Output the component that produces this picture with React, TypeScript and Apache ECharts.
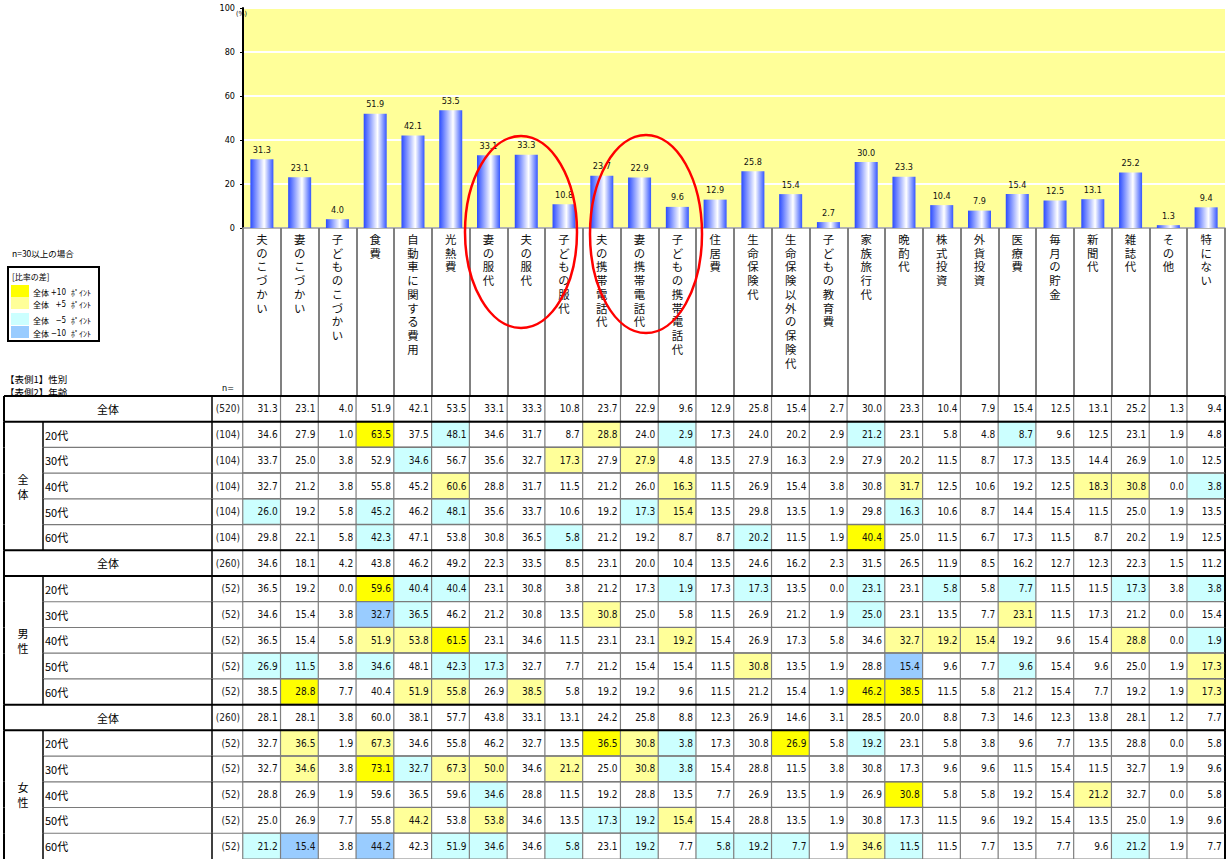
import React, { useEffect, useRef } from 'react';
import * as echarts from 'echarts';

// ---------- data ----------
const categories = [
  '夫のこづかい', '妻のこづかい', '子どものこづかい', '食費', '自動車に関する費用', '光熱費',
  '妻の服代', '夫の服代', '子どもの服代', '夫の携帯電話代', '妻の携帯電話代', '子どもの携帯電話代',
  '住居費', '生命保険代', '生命保険以外の保険代', '子どもの教育費', '家族旅行代', '晩酌代',
  '株式投資', '外貨投資', '医療費', '毎月の貯金', '新聞代', '雑誌代', 'その他', '特にない',
];

const allTotal = [31.3, 23.1, 4.0, 51.9, 42.1, 53.5, 33.1, 33.3, 10.8, 23.7, 22.9, 9.6, 12.9, 25.8, 15.4, 2.7, 30.0, 23.3, 10.4, 7.9, 15.4, 12.5, 13.1, 25.2, 1.3, 9.4];
const all20 = [34.6, 27.9, 1.0, 63.5, 37.5, 48.1, 34.6, 31.7, 8.7, 28.8, 24.0, 2.9, 17.3, 24.0, 20.2, 2.9, 21.2, 23.1, 5.8, 4.8, 8.7, 9.6, 12.5, 23.1, 1.9, 4.8];
const all30 = [33.7, 25.0, 3.8, 52.9, 34.6, 56.7, 35.6, 32.7, 17.3, 27.9, 27.9, 4.8, 13.5, 27.9, 16.3, 2.9, 27.9, 20.2, 11.5, 8.7, 17.3, 13.5, 14.4, 26.9, 1.0, 12.5];
const all40 = [32.7, 21.2, 3.8, 55.8, 45.2, 60.6, 28.8, 31.7, 11.5, 21.2, 26.0, 16.3, 11.5, 26.9, 15.4, 3.8, 30.8, 31.7, 12.5, 10.6, 19.2, 12.5, 18.3, 30.8, 0.0, 3.8];
const all50 = [26.0, 19.2, 5.8, 45.2, 46.2, 48.1, 35.6, 33.7, 10.6, 19.2, 17.3, 15.4, 13.5, 29.8, 13.5, 1.9, 29.8, 16.3, 10.6, 8.7, 14.4, 15.4, 11.5, 25.0, 1.9, 13.5];
const all60 = [29.8, 22.1, 5.8, 42.3, 47.1, 53.8, 30.8, 36.5, 5.8, 21.2, 19.2, 8.7, 8.7, 20.2, 11.5, 1.9, 40.4, 25.0, 11.5, 6.7, 17.3, 11.5, 8.7, 20.2, 1.9, 12.5];
const maleTotal = [34.6, 18.1, 4.2, 43.8, 46.2, 49.2, 22.3, 33.5, 8.5, 23.1, 20.0, 10.4, 13.5, 24.6, 16.2, 2.3, 31.5, 26.5, 11.9, 8.5, 16.2, 12.7, 12.3, 22.3, 1.5, 11.2];
const male20 = [36.5, 19.2, 0.0, 59.6, 40.4, 40.4, 23.1, 30.8, 3.8, 21.2, 17.3, 1.9, 17.3, 17.3, 13.5, 0.0, 23.1, 23.1, 5.8, 5.8, 7.7, 11.5, 11.5, 17.3, 3.8, 3.8];
const male30 = [34.6, 15.4, 3.8, 32.7, 36.5, 46.2, 21.2, 30.8, 13.5, 30.8, 25.0, 5.8, 11.5, 26.9, 21.2, 1.9, 25.0, 23.1, 13.5, 7.7, 23.1, 11.5, 17.3, 21.2, 0.0, 15.4];
const male40 = [36.5, 15.4, 5.8, 51.9, 53.8, 61.5, 23.1, 34.6, 11.5, 23.1, 23.1, 19.2, 15.4, 26.9, 17.3, 5.8, 34.6, 32.7, 19.2, 15.4, 19.2, 9.6, 15.4, 28.8, 0.0, 1.9];
const male50 = [26.9, 11.5, 3.8, 34.6, 48.1, 42.3, 17.3, 32.7, 7.7, 21.2, 15.4, 15.4, 11.5, 30.8, 13.5, 1.9, 28.8, 15.4, 9.6, 7.7, 9.6, 15.4, 9.6, 25.0, 1.9, 17.3];
const male60 = [38.5, 28.8, 7.7, 40.4, 51.9, 55.8, 26.9, 38.5, 5.8, 19.2, 19.2, 9.6, 11.5, 21.2, 15.4, 1.9, 46.2, 38.5, 11.5, 5.8, 21.2, 15.4, 7.7, 19.2, 1.9, 17.3];
const femaleTotal = [28.1, 28.1, 3.8, 60.0, 38.1, 57.7, 43.8, 33.1, 13.1, 24.2, 25.8, 8.8, 12.3, 26.9, 14.6, 3.1, 28.5, 20.0, 8.8, 7.3, 14.6, 12.3, 13.8, 28.1, 1.2, 7.7];
const female20 = [32.7, 36.5, 1.9, 67.3, 34.6, 55.8, 46.2, 32.7, 13.5, 36.5, 30.8, 3.8, 17.3, 30.8, 26.9, 5.8, 19.2, 23.1, 5.8, 3.8, 9.6, 7.7, 13.5, 28.8, 0.0, 5.8];
const female30 = [32.7, 34.6, 3.8, 73.1, 32.7, 67.3, 50.0, 34.6, 21.2, 25.0, 30.8, 3.8, 15.4, 28.8, 11.5, 3.8, 30.8, 17.3, 9.6, 9.6, 11.5, 15.4, 11.5, 32.7, 1.9, 9.6];
const female40 = [28.8, 26.9, 1.9, 59.6, 36.5, 59.6, 34.6, 28.8, 11.5, 19.2, 28.8, 13.5, 7.7, 26.9, 13.5, 1.9, 26.9, 30.8, 5.8, 5.8, 19.2, 15.4, 21.2, 32.7, 0.0, 5.8];
const female50 = [25.0, 26.9, 7.7, 55.8, 44.2, 53.8, 53.8, 34.6, 13.5, 17.3, 19.2, 15.4, 15.4, 28.8, 13.5, 1.9, 30.8, 17.3, 11.5, 9.6, 19.2, 15.4, 13.5, 25.0, 1.9, 9.6];
const female60 = [21.2, 15.4, 3.8, 44.2, 42.3, 51.9, 34.6, 34.6, 5.8, 23.1, 19.2, 7.7, 5.8, 19.2, 7.7, 1.9, 34.6, 11.5, 11.5, 7.7, 13.5, 7.7, 9.6, 21.2, 1.9, 7.7];

// highlight codes: Y = +10pt, y = +5pt, c = -5pt, b = -10pt, . = none
const NONE = '..........................';
const hlAll20 = '...Y.c...y.c....c...c.....';
const hlAll30 = '....c...y.y...............';
const hlAll40 = '.....y.....y.....y....yy.c';
const hlAll50 = 'c..c.c....cy.....c........';
const hlAll60 = '...c....c....c..Y.........';
const hlMale20 = '...Ycc.....c.c..c.c.c..c.c';
const hlMale30 = '...bc....y......c...y.....';
const hlMale40 = '...yyY.....y.....yyy...y.c';
const hlMale50 = 'cc.c.cc......y...b..c....y';
const hlMale60 = '.Y..yy.y........YY.......y';
const hlFemale20 = '.y.y.....Yyc..Y.c.........';
const hlFemale30 = '.y.Ycyy.y.yc..............';
const hlFemale40 = '......c..........Y....y...';
const hlFemale50 = '....y.y..ccy..............';
const hlFemale60 = 'cb.b.cc.c.c.ccc.yc.....c..';

const rowLabels = ['全体', '20代', '30代', '40代', '50代', '60代', '全体', '20代', '30代', '40代', '50代', '60代', '全体', '20代', '30代', '40代', '50代', '60代'];
const rowN = ['(520)', '(104)', '(104)', '(104)', '(104)', '(104)', '(260)', '(52)', '(52)', '(52)', '(52)', '(52)', '(260)', '(52)', '(52)', '(52)', '(52)', '(52)'];
const groupLabels = ['全体', '男性', '女性'];
const yTicks = [0, 20, 40, 60, 80, 100];

const tableRows = [allTotal, all20, all30, all40, all50, all60, maleTotal, male20, male30, male40, male50, male60, femaleTotal, female20, female30, female40, female50, female60];
const tableHl = [NONE, hlAll20, hlAll30, hlAll40, hlAll50, hlAll60, NONE, hlMale20, hlMale30, hlMale40, hlMale50, hlMale60, NONE, hlFemale20, hlFemale30, hlFemale40, hlFemale50, hlFemale60];

// ---------- layout / style ----------
const HL_CODES = '.Yycb';
const HL_COLOR_LIST = ['#ffffff', '#ffff00', '#ffff99', '#ccffff', '#99ccff'];
const TOTAL_ROWS = [0, 6, 12];
const BOUNDARY_ROWS = [0, 1, 6, 7, 12, 13];
const GRID_LEFT = 243;
const GRID_RIGHT_X = 1225;
const GRID_W = GRID_RIGHT_X - GRID_LEFT;
const TABLE_TOP = 396;
const ROW_H = 25.72;
const X_OUTER = 4;
const X_GROUP = 43;
const X_N = 212;
const NUM_FONT = "'Liberation Sans Narrow', 'DejaVu Sans Condensed', 'Roboto Condensed', 'Noto Sans CJK JP', sans-serif";
const JP_FONT = "'Noto Sans CJK JP', 'Noto Sans', sans-serif";

export default function App() {
  const ref = useRef<HTMLDivElement>(null);

  useEffect(() => {
    if (!ref.current) return;
    const chart = echarts.init(ref.current, undefined, { renderer: 'svg' });
    const rowIds = rowLabels.map((_, i) => 'r' + i);

    const heatData: any[] = [];
    tableRows.forEach((row, r) => {
      row.forEach((v, c) => {
        heatData.push([c, r, v, HL_CODES.indexOf(tableHl[r][c])]);
      });
    });

    const barGradient = new echarts.graphic.LinearGradient(0, 0, 1, 0, [
      { offset: 0, color: '#2a4bff' },
      { offset: 0.6, color: '#ffffff' },
      { offset: 1, color: '#3556ff' },
    ]);

    const legendRows = [
      { y: 285, h: 12, color: HL_COLOR_LIST[1], sign: '+10' },
      { y: 297, h: 12, color: HL_COLOR_LIST[2], sign: '+5' },
      { y: 313, h: 12, color: HL_COLOR_LIST[3], sign: '−5' },
      { y: 326, h: 12, color: HL_COLOR_LIST[4], sign: '−10' },
    ];
    const legendEls: any[] = [
      { type: 'rect', shape: { x: 8, y: 267, width: 91, height: 74 }, style: { fill: '#fff', stroke: '#000', lineWidth: 2 } },
      { type: 'text', x: 12, y: 272, style: { text: '[比率の差]', fontSize: 8, fontFamily: JP_FONT, fill: '#000' } },
    ];
    legendRows.forEach((lr) => {
      legendEls.push({ type: 'rect', shape: { x: 11, y: lr.y, width: 18, height: lr.h }, style: { fill: lr.color } });
      legendEls.push({ type: 'text', x: 33, y: lr.y + lr.h / 2 + 1, style: { text: '全体', fontSize: 8, fontFamily: JP_FONT, fill: '#000', verticalAlign: 'middle' } });
      legendEls.push({ type: 'text', x: 66, y: lr.y + lr.h / 2 + 1, style: { text: lr.sign, fontSize: 8, fontFamily: NUM_FONT, fill: '#000', align: 'right', verticalAlign: 'middle' } });
      legendEls.push({ type: 'text', x: 71, y: lr.y + lr.h / 2 + 1, style: { text: 'ﾎﾟｲﾝﾄ', fontSize: 8, fontFamily: JP_FONT, fill: '#000', verticalAlign: 'middle' } });
    });

    const option: any = {
      animation: false,
      backgroundColor: '#ffffff',
      grid: [
        { left: GRID_LEFT, top: 8, width: GRID_W, height: 220, show: true, backgroundColor: '#ffff99', borderWidth: 0 },
        { left: GRID_LEFT, top: TABLE_TOP, width: GRID_W, height: ROW_H * 18, show: false },
      ],
      visualMap: {
        type: 'piecewise', show: false, seriesIndex: 1, dimension: 3,
        pieces: HL_COLOR_LIST.map((color, i) => ({ value: i, color })),
      },
      xAxis: [
        {
          type: 'category', gridIndex: 0, data: categories,
          axisLine: { show: true, lineStyle: { color: '#9a9a9a', width: 1.5 } },
          axisTick: { show: true, interval: 0, length: TABLE_TOP - 228, lineStyle: { color: '#808080', width: 2 } },
          axisLabel: {
            interval: 0, margin: 4, fontSize: 11.4, lineHeight: 13.75, color: '#111', fontFamily: JP_FONT,
            verticalAlign: 'top',
            formatter: (v: string) => v.split('').join('\n'),
          },
          splitLine: { show: false },
        },
        { type: 'category', gridIndex: 1, data: categories, show: false },
      ],
      yAxis: [
        {
          type: 'value', gridIndex: 0, min: 0, max: 100, interval: 20,
          axisLine: { show: true, lineStyle: { color: '#000', width: 2 } },
          axisTick: { show: true, length: 3, lineStyle: { color: '#000' } },
          axisLabel: { margin: 8, fontSize: 9, color: '#000', fontFamily: NUM_FONT, formatter: (v: number) => (yTicks.includes(v) ? String(v) : '') },
          splitLine: { show: true, lineStyle: { color: '#ffffff', width: 2 } },
        },
        {
          type: 'category', gridIndex: 1, data: rowIds, inverse: true, position: 'left', offset: 0,
          axisLine: { show: false }, axisTick: { show: false }, splitLine: { show: false },
          axisLabel: {
            interval: 0, align: 'left', margin: GRID_LEFT - 45, fontSize: 11, color: '#000', fontFamily: JP_FONT,
            formatter: (_v: string, i: number) => (TOTAL_ROWS.includes(i) ? '' : rowLabels[i]),
          },
        },
        {
          type: 'category', gridIndex: 1, data: rowIds, inverse: true, position: 'left', offset: 0,
          axisLine: { show: false }, axisTick: { show: false }, splitLine: { show: false },
          axisLabel: {
            interval: 0, align: 'center', margin: GRID_LEFT - 108, fontSize: 11, color: '#000', fontFamily: JP_FONT,
            formatter: (_v: string, i: number) => (TOTAL_ROWS.includes(i) ? rowLabels[i] : ''),
          },
        },
        {
          type: 'category', gridIndex: 1, data: rowIds, inverse: true, position: 'left', offset: 0,
          axisLine: { show: false }, axisTick: { show: false }, splitLine: { show: false },
          axisLabel: {
            interval: 0, align: 'right', margin: 3, fontSize: 10, color: '#222', fontFamily: NUM_FONT,
            formatter: (_v: string, i: number) => rowN[i],
          },
        },
        {
          type: 'category', gridIndex: 1, data: rowIds, inverse: true, position: 'left', offset: 0,
          axisLine: { show: false }, axisTick: { show: false }, splitLine: { show: false },
          axisLabel: {
            interval: 0, align: 'center', margin: GRID_LEFT - 23, fontSize: 11, lineHeight: 15, color: '#000', fontFamily: JP_FONT,
            formatter: (_v: string, i: number) => {
              const g = [3, 9, 15].indexOf(i);
              return g >= 0 ? groupLabels[g].split('').join('\n') : '';
            },
          },
        },
      ],
      series: [
        {
          type: 'bar', xAxisIndex: 0, yAxisIndex: 0, data: allTotal, barWidth: 23,
          itemStyle: { color: barGradient },
          label: { show: true, position: 'top', distance: 5, fontSize: 9, color: '#111', fontFamily: NUM_FONT, formatter: (p: any) => Number(p.value).toFixed(1) },
          emphasis: { disabled: true },
        },
        {
          type: 'heatmap', xAxisIndex: 1, yAxisIndex: 1, data: heatData, z: 2,
          encode: { x: 0, y: 1, value: 2 },
          itemStyle: { borderColor: '#808080', borderWidth: 1.2 },
          label: {
            show: true, position: 'insideRight', distance: 4, fontSize: 10, color: '#111', fontFamily: NUM_FONT,
            formatter: (p: any) => Number(p.value[2]).toFixed(1),
          },
          emphasis: { disabled: true },
        },
        {
          type: 'custom', xAxisIndex: 1, yAxisIndex: 1, z: 5, silent: true,
          data: rowIds.map((_, r) => [0, r]),
          renderItem: (_params: any, api: any) => {
            const r = api.value(1);
            const p = api.coord([0, r]);
            const sz = api.size([1, 1]);
            const top = p[1] - sz[1] / 2;
            const bot = top + sz[1];
            const L = (x1: number, y1: number, x2: number, y2: number, stroke: string, w: number) => ({
              type: 'line', shape: { x1, y1, x2, y2 }, style: { stroke, lineWidth: w },
            });
            const children: any[] = [];
            if (BOUNDARY_ROWS.includes(r)) children.push(L(X_OUTER, top, GRID_RIGHT_X, top, '#000', 2));
            else children.push(L(X_GROUP, top, GRID_RIGHT_X, top, '#7a7a7a', 1.2));
            children.push(L(X_OUTER, top, X_OUTER, bot, '#000', 2));
            if (!TOTAL_ROWS.includes(r)) children.push(L(X_GROUP, top, X_GROUP, bot, '#000', 1.5));
            children.push(L(X_N, top, X_N, bot, '#000', 1.5));
            children.push(L(GRID_RIGHT_X, top, GRID_RIGHT_X, bot, '#000', 2));
            return { type: 'group', children };
          },
        },
      ],
      graphic: [
        { type: 'text', x: 236, y: 10, style: { text: '(%)', fontSize: 7, fontFamily: NUM_FONT, fill: '#000' } },
        { type: 'line', shape: { x1: GRID_LEFT, y1: 228, x2: GRID_LEFT, y2: TABLE_TOP }, style: { stroke: '#000', lineWidth: 2 } },
        { type: 'line', shape: { x1: GRID_RIGHT_X, y1: 228, x2: GRID_RIGHT_X, y2: TABLE_TOP }, style: { stroke: '#000', lineWidth: 2 } },
        { type: 'text', x: 12, y: 249, style: { text: 'n=30以上の場合', fontSize: 8.5, fontFamily: JP_FONT, fill: '#000' } },
        ...legendEls,
        { type: 'text', x: 5, y: 374, style: { text: '【表側1】性別', fontSize: 9.5, fontFamily: JP_FONT, fill: '#000' } },
        { type: 'text', x: 5, y: 387, style: { text: '【表側2】年齢', fontSize: 9.5, fontFamily: JP_FONT, fill: '#000' } },
        { type: 'text', x: 222, y: 383, style: { text: 'n=', fontSize: 9, fontFamily: NUM_FONT, fill: '#000' } },
        { type: 'ellipse', shape: { cx: 521, cy: 232, rx: 56, ry: 96 }, style: { fill: 'none', stroke: '#ff0000', lineWidth: 2.5 }, z: 100 },
        { type: 'ellipse', shape: { cx: 646, cy: 234, rx: 56, ry: 99 }, style: { fill: 'none', stroke: '#ff0000', lineWidth: 2.5 }, z: 100 },
      ],
    };

    chart.setOption(option);
    return () => chart.dispose();
  }, []);

  return (
    <div style={{ position: 'fixed', left: 0, top: 0, width: 1231, height: 859, background: '#fff' }}>
      <div ref={ref} style={{ width: 1231, height: 859 }} />
    </div>
  );
}
